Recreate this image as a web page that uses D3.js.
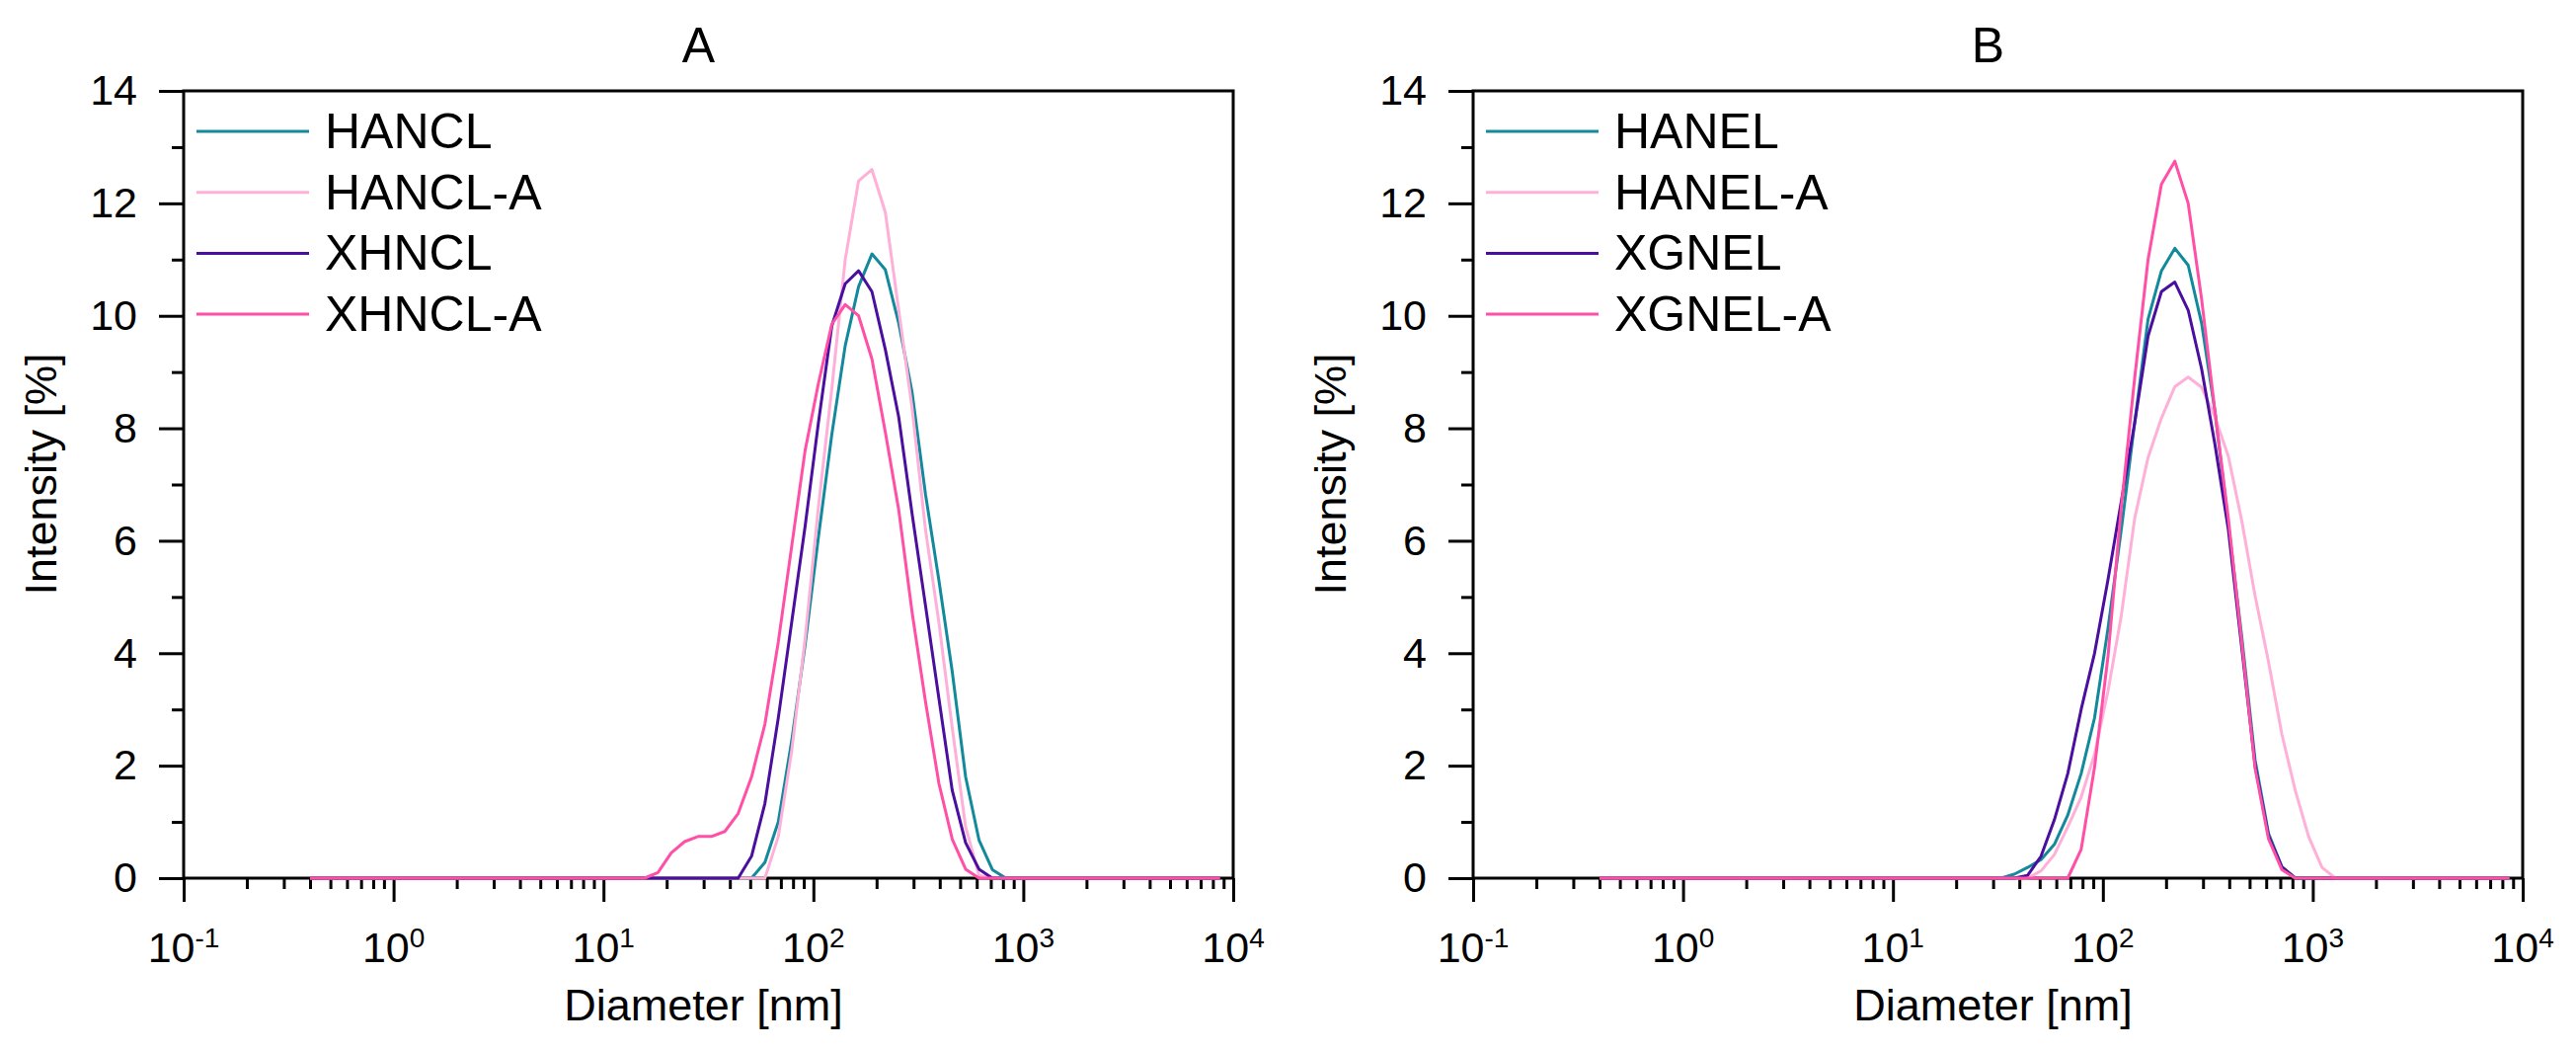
<!DOCTYPE html>
<html>
<head>
<meta charset="utf-8">
<script src="https://cdn.jsdelivr.net/npm/d3@7"></script>
<style>
	body { margin: 0; background: #fff; }
	text { font-family: "Liberation Sans", Arial, sans-serif; fill: #000; }
</style>
</head>
<body>
<svg id="chart"></svg>
<script>

// Zetasizer size classes [nm]
var sizeBins = [
	0.4, 0.4632, 0.5365, 0.6213, 0.7195, 0.8332, 0.9649, 1.117, 1.294, 1.499,
	1.736, 2.010, 2.328, 2.696, 3.122, 3.615, 4.187, 4.849, 5.615, 6.503,
	7.531, 8.721, 10.10, 11.70, 13.54, 15.69, 18.17, 21.04, 24.36, 28.21,
	32.67, 37.84, 43.82, 50.75, 58.77, 68.06, 78.82, 91.28, 105.7, 122.4,
	141.8, 164.2, 190.1, 220.2, 255.0, 295.3, 342.0, 396.1, 458.7, 531.2,
	615.1, 712.4, 825.0, 955.4, 1106, 1281, 1484, 1718, 1990, 2305,
	2669, 3091, 3580, 4145, 4801, 5560, 6439, 7456, 8635
];

// panel A intensities [%]
var HANCL = [
	0,0,0,0,0,0,0,0,0,0, 0,0,0,0,0,0,0,0,0,0, 0,0,0,0,0,
	0,0,0,0,0,0,0,0,0,0.28,
	1.0,2.44,4.14,6.07,7.89,9.47,10.52,11.1,10.82,9.87,
	8.64,6.83,5.3,3.67,1.8,0.68,0.15,0,0,0,
	0,0,0,0,0,0,0,0,0,0, 0,0,0,0
];
var HANCL_A = [
	0,0,0,0,0,0,0,0,0,0, 0,0,0,0,0,0,0,0,0,0, 0,0,0,0,0,
	0,0,0,0,0,0,0,0,0,0,
	0.74,2.26,4.25,6.6,8.7,11.0,12.4,12.6,11.84,10.1,
	8.36,6.2,4.55,2.67,0.91,0.05,0,0,0,0,
	0,0,0,0,0,0,0,0,0,0, 0,0,0,0
];
var XHNCL = [
	0,0,0,0,0,0,0,0,0,0, 0,0,0,0,0,0,0,0,0,0, 0,0,0,0,0,
	0,0,0,0,0,0,0,0,0.39,1.33,
	2.85,4.55,6.25,8.1,9.82,10.57,10.8,10.43,9.4,8.2,
	6.48,4.85,3.2,1.56,0.63,0.16,0,0,0,0,
	0,0,0,0,0,0,0,0,0,0, 0,0,0,0
];
var XHNCL_A = [
	0,0,0,0,0,0,0,0,0,0, 0,0,0,0,0,0,0,0,0,0, 0,0,0,0,0,
	0,0.1,0.45,0.65,0.74,0.74,0.83,1.15,1.8,2.74,
	4.2,5.9,7.6,8.8,9.85,10.2,10.0,9.23,7.93,6.55,
	4.73,3.14,1.69,0.69,0.16,0,0,0,0,0,
	0,0,0,0,0,0,0,0,0,0, 0,0,0,0
];

// panel B intensities [%]
var HANEL = [
	0,0,0,0,0,0,0,0,0,0, 0,0,0,0,0,0,0,0,0,0, 0,0,0,0,0,
	0,0,0,0,0,0,0.07,0.19,0.33,0.6,
	1.12,1.86,2.85,4.43,6.2,8.1,9.94,10.8,11.2,10.9,
	9.87,8.3,6.3,4.3,2.1,0.8,0.2,0,0,0,
	0,0,0,0,0,0,0,0,0,0, 0,0,0,0
];
var HANEL_A = [
	0,0,0,0,0,0,0,0,0,0, 0,0,0,0,0,0,0,0,0,0, 0,0,0,0,0,
	0,0,0,0,0,0,0,0,0.13,0.42,
	0.91,1.44,2.2,3.32,4.67,6.4,7.48,8.18,8.74,8.91,
	8.73,8.2,7.5,6.36,5.02,3.85,2.56,1.56,0.74,0.19,
	0,0,0,0,0,0,0,0,0,0, 0,0,0,0
];
var XGNEL = [
	0,0,0,0,0,0,0,0,0,0, 0,0,0,0,0,0,0,0,0,0, 0,0,0,0,0,
	0,0,0,0,0,0,0,0.05,0.39,1.04,
	1.86,3.0,4.0,5.3,6.7,8.1,9.64,10.43,10.6,10.1,
	9.06,7.71,6.2,4.1,2.0,0.75,0.2,0,0,0,
	0,0,0,0,0,0,0,0,0,0, 0,0,0,0
];
var XGNEL_A = [
	0,0,0,0,0,0,0,0,0,0, 0,0,0,0,0,0,0,0,0,0, 0,0,0,0,0,
	0,0,0,0,0,0,0,0,0,0,
	0,0.51,1.97,3.93,6.6,8.9,11.0,12.34,12.75,12.0,
	10.3,8.3,6.4,4.2,1.95,0.7,0.15,0,0,0,
	0,0,0,0,0,0,0,0,0,0, 0,0,0,0
];

var namesA = ["HANCL", "HANCL-A", "XHNCL", "XHNCL-A"];
var namesB = ["HANEL", "HANEL-A", "XGNEL", "XGNEL-A"];
var colors = ["#138a9c", "#ffb0d8", "#4a0f9e", "#ff4fa6"];

var yMajor = [0, 2, 4, 6, 8, 10, 12, 14];
var yMinor = [1, 3, 5, 7, 9, 11, 13];
var xDecades = [0.1, 1, 10, 100, 1000, 10000];
var xExponents = ["-1", "0", "1", "2", "3", "4"];

var WIDTH = 2609, HEIGHT = 1065;
var TOP = 92, BOTTOM = 889, PANEL_W = 1063;

var svg = d3.select("#chart")
	.attr("width", WIDTH)
	.attr("height", HEIGHT);

function style_axis(sel, fontSize) {
	sel.select(".domain").remove();
	sel.selectAll(".tick line")
		.attr("stroke", "#000")
		.attr("stroke-width", 3);
	sel.attr("font-family", null)
		.attr("font-size", fontSize);
}

function build_panel(left, title, names, series) {

	var x = d3.scaleLog()
		.domain([0.1, 10000])
		.range([left, left + PANEL_W]);
	var y = d3.scaleLinear()
		.domain([0, 14])
		.range([BOTTOM, TOP]);

	var g = svg.append("g");

	// minor x ticks, 2..9 in every decade
	var xMinor = [];
	xDecades.slice(0, -1).forEach(function(d) {
		for (var k = 2; k < 10; k++) xMinor.push(d * k);
	});

	g.append("g")
		.attr("transform", "translate(0," + BOTTOM + ")")
		.call(d3.axisBottom(x).tickValues(xDecades).tickSize(24).tickFormat(""))
		.call(style_axis, 43);

	g.append("g")
		.attr("transform", "translate(0," + BOTTOM + ")")
		.call(d3.axisBottom(x).tickValues(xMinor).tickSize(11).tickFormat(""))
		.call(style_axis, 43);

	g.append("g")
		.attr("transform", "translate(" + left + ",0)")
		.call(d3.axisLeft(y).tickValues(yMajor).tickSize(25).tickPadding(22).tickFormat(d3.format("d")))
		.call(style_axis, 43);

	g.append("g")
		.attr("transform", "translate(" + left + ",0)")
		.call(d3.axisLeft(y).tickValues(yMinor).tickSize(12).tickFormat(""))
		.call(style_axis, 43);

	// decade labels 10^n
	var xl = g.selectAll(".xlab")
		.data(xDecades)
		.enter()
		.append("text")
			.attr("class", "xlab")
			.attr("x", d => x(d))
			.attr("y", 974)
			.attr("text-anchor", "middle")
			.attr("font-size", 43);
	xl.append("tspan").text("10");
	xl.append("tspan")
		.attr("font-size", 28)
		.attr("dy", -15)
		.text((d, i) => xExponents[i]);

	// frame
	g.append("rect")
		.attr("x", left)
		.attr("y", TOP)
		.attr("width", PANEL_W)
		.attr("height", BOTTOM - TOP)
		.attr("fill", "none")
		.attr("stroke", "#000")
		.attr("stroke-width", 3);

	var line = d3.line()
		.x((d, i) => x(sizeBins[i]))
		.y(d => y(d));

	series.forEach(function(vals, i) {
		g.append("path")
			.datum(vals)
			.attr("d", line)
			.attr("fill", "none")
			.attr("stroke", colors[i])
			.attr("stroke-width", 3)
			.attr("stroke-linejoin", "round");
	});

	// legend
	var leg = g.selectAll(".leg")
		.data(names)
		.enter()
		.append("g")
			.attr("class", "leg")
			.attr("transform", (d, i) => "translate(" + left + "," + (133 + i * 61.7) + ")");
	leg.append("line")
		.attr("x1", 13)
		.attr("x2", 127)
		.attr("stroke", (d, i) => colors[i])
		.attr("stroke-width", 3);
	leg.append("text")
		.attr("x", 143)
		.attr("y", 17)
		.attr("font-size", 50)
		.text(d => d);

	g.append("text")
		.attr("x", left + PANEL_W / 2 - 10)
		.attr("y", 63)
		.attr("text-anchor", "middle")
		.attr("font-size", 50)
		.text(title);

	g.append("text")
		.attr("x", left + PANEL_W / 2 - 5)
		.attr("y", 1033)
		.attr("text-anchor", "middle")
		.attr("font-size", 45)
		.text("Diameter [nm]");

	g.append("text")
		.attr("transform", "translate(" + (left - 129) + "," + 480 + ") rotate(-90)")
		.attr("text-anchor", "middle")
		.attr("font-size", 45)
		.text("Intensity [%]");
}

build_panel(186, "A", namesA, [HANCL, HANCL_A, XHNCL, XHNCL_A]);
build_panel(1492, "B", namesB, [HANEL, HANEL_A, XGNEL, XGNEL_A]);

</script>
</body>
</html>
